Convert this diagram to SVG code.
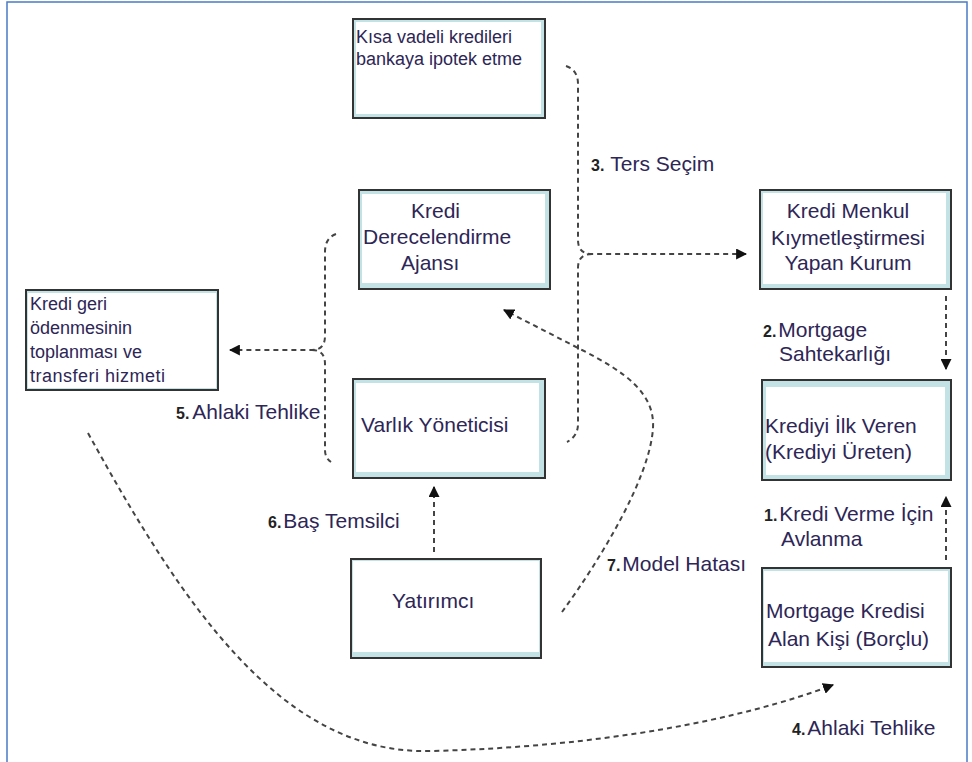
<svg xmlns="http://www.w3.org/2000/svg" width="972" height="762" viewBox="0 0 972 762">
<defs>
<style>
.frame{fill:none;stroke:#4a7bc4;stroke-width:1.5}
.bo{fill:#c2e2e6;stroke:#333;stroke-width:2}
.bi{fill:#fff}
.t{font-family:"Liberation Sans",Arial,sans-serif;fill:#2d2656}
.big{font-size:21px}
.sm{font-size:18px}
.n{font-family:"Liberation Sans",Arial,sans-serif;font-weight:bold;font-size:16px;fill:#222}
.c{fill:none;stroke:#444;stroke-width:2;stroke-dasharray:5 4}
</style>
<marker id="ah" viewBox="0 0 10 10" refX="9" refY="5" markerWidth="5.5" markerHeight="5.5" orient="auto" markerUnits="strokeWidth">
<path d="M0,0 L10,5 L0,10 z" fill="#111"/>
</marker>
</defs>
<rect width="972" height="762" fill="#fff"/>
<rect class="frame" x="7" y="2" width="960" height="790"/>

<g id="kisa-vadeli">
<rect class="bo" x="353" y="19" width="192" height="99"/>
<rect class="bi" x="356" y="22" width="185" height="92"/>
<text class="t sm" x="356" y="43">Kısa vadeli kredileri</text>
<text class="t sm" x="356" y="65">bankaya ipotek etme</text>
</g>

<g id="kredi-derecelendirme">
<rect class="bo" x="359" y="190" width="191" height="99"/>
<rect class="bi" x="362" y="194" width="183" height="89"/>
<text class="t big" x="411" y="218">Kredi</text>
<text class="t big" x="363" y="244">Derecelendirme</text>
<text class="t big" x="401" y="270">Ajansı</text>
</g>

<g id="kredi-menkul">
<rect class="bo" x="760" y="190" width="191" height="99"/>
<rect class="bi" x="763" y="193" width="183" height="91"/>
<text class="t big" x="848" y="218" text-anchor="middle">Kredi Menkul</text>
<text class="t big" x="848" y="245" text-anchor="middle">Kıymetleştirmesi</text>
<text class="t big" x="848" y="270" text-anchor="middle">Yapan Kurum</text>
</g>

<g id="kredi-geri">
<rect class="bo" x="26" y="290" width="192" height="100"/>
<rect class="bi" x="28" y="293" width="188" height="95"/>
<text class="t sm" x="30" y="310">Kredi geri</text>
<text class="t sm" x="30" y="334">ödenmesinin</text>
<text class="t sm" x="30" y="358">toplanması ve</text>
<text class="t sm" x="30" y="382" letter-spacing="0.5">transferi hizmeti</text>
</g>

<g id="varlik-yoneticisi">
<rect class="bo" x="353" y="379" width="192" height="99"/>
<rect class="bi" x="356" y="383" width="183" height="89"/>
<text class="t big" x="361" y="432">Varlık Yöneticisi</text>
</g>

<g id="krediyi-ilk-veren">
<rect class="bo" x="762" y="380" width="189" height="100"/>
<rect class="bi" x="766" y="387" width="179" height="88"/>
<text class="t big" x="765" y="433">Krediyi İlk Veren</text>
<text class="t big" x="765" y="459">(Krediyi Üreten)</text>
</g>

<g id="yatirimci">
<rect class="bo" x="351" y="559" width="190" height="99"/>
<rect class="bi" x="353" y="561" width="186" height="91"/>
<text class="t big" x="392" y="608">Yatırımcı</text>
</g>

<g id="mortgage-kredisi">
<rect class="bo" x="762" y="568" width="189" height="99"/>
<rect class="bi" x="764" y="571" width="184" height="91"/>
<text class="t big" x="766" y="618">Mortgage Kredisi</text>
<text class="t big" x="768" y="646">Alan Kişi (Borçlu)</text>
</g>

<g id="connectors">
<path class="c" d="M566,66 Q578,70 578,84 L578,240 Q578,254 592,254 L746,254" marker-end="url(#ah)"/>
<path class="c" d="M592,254 Q578,254 578,268 L578,424 Q578,436 567,442"/>
<path class="c" d="M336,234 Q325,238 325,252 L325,336 Q325,350 312,350 L230,350" marker-end="url(#ah)"/>
<path class="c" d="M312,350 Q325,350 325,364 L325,450 Q325,458 331,462"/>
<path class="c" d="M946,296 L946,369" marker-end="url(#ah)"/>
<path class="c" d="M946,560 L946,497" marker-end="url(#ah)"/>
<path class="c" d="M434,552 L434,487" marker-end="url(#ah)"/>
<path class="c" d="M562,612 C600,560 650,478 653,428 C655,393 625,372 582,350 L504,310" marker-end="url(#ah)"/>
<path class="c" d="M88,433 C180,600 280,755 430,751 C600,747 740,720 833,685" marker-end="url(#ah)"/>
</g>

<g id="labels">
<text x="591" y="171"><tspan class="n">3.</tspan><tspan class="t big" dx="6">Ters Seçim</tspan></text>
<text x="763" y="337"><tspan class="n">2.</tspan><tspan class="t big" dx="2">Mortgage</tspan></text>
<text class="t big" x="779" y="361">Sahtekarlığı</text>
<text x="176" y="419"><tspan class="n">5.</tspan><tspan class="t big" dx="3">Ahlaki Tehlike</tspan></text>
<text x="268" y="528"><tspan class="n">6.</tspan><tspan class="t big" dx="2">Baş Temsilci</tspan></text>
<text x="607" y="571"><tspan class="n">7.</tspan><tspan class="t big" dx="2">Model Hatası</tspan></text>
<text x="764" y="521"><tspan class="n">1.</tspan><tspan class="t big" dx="2">Kredi Verme İçin</tspan></text>
<text class="t big" x="781" y="546">Avlanma</text>
<text x="792" y="735"><tspan class="n">4.</tspan><tspan class="t big" dx="2">Ahlaki Tehlike</tspan></text>
</g>
</svg>
